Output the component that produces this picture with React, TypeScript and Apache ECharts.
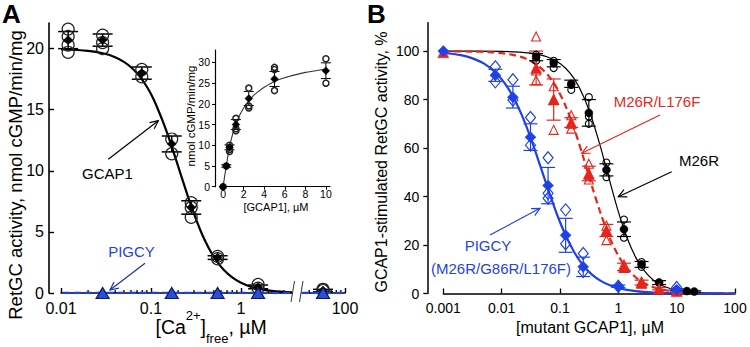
import React, { useEffect, useRef } from "react";
import * as echarts from "echarts";

// ---------------- Panel A: RetGC activity vs free Ca2+ ----------------
const axA1 = [0.01, 3.69];
const axA2 = [33.3, 100];
const caConc = [0.012, 0.029, 0.079, 0.17, 0.28, 0.55, 1.55, 57];
const gcap1Mean = [20.7, 20.7, 18.0, 12.2, 7.0, 2.9, 0.5, 0.2];
const gcap1SD = [0.7, 0.5, 0.5, 0.65, 0.55, 0.15, 0.15, 0.1];
const gcap1Reps = [
  [21.6, 21.0, 20.3, 19.7],
  [21.1, 20.5, 20.0],
  [18.3, 17.7],
  [12.6, 11.4],
  [7.4, 7.0, 6.2],
  [3.0, 2.8],
  [0.7, 0.4],
  [0.3, 0.2],
];
const gcap1FitX = [0.01, 0.02, 0.03, 0.04, 0.05, 0.06, 0.07, 0.08, 0.09, 0.1, 0.11, 0.12, 0.135, 0.15, 0.17, 0.19, 0.21, 0.24, 0.27, 0.3, 0.35, 0.4, 0.47, 0.55, 0.65, 0.8, 1, 1.3, 1.7, 2.3, 3.69];
const gcap1FitY = [19.95, 19.82, 19.6, 19.3, 18.92, 18.48, 17.98, 17.45, 16.88, 16.28, 15.65, 15.0, 14.07, 13.16, 11.99, 10.9, 9.9, 8.58, 7.45, 6.49, 5.22, 4.26, 3.28, 2.5, 1.86, 1.27, 0.83, 0.5, 0.3, 0.16, 0.06];
const pigcyConcA = [0.029, 0.17, 0.55, 1.55, 57];
const pigcyActA = [0, 0, 0, 0, 0];
const minorTicksA = [0.02, 0.03, 0.04, 0.05, 0.06, 0.07, 0.08, 0.09, 0.2, 0.3, 0.4, 0.5, 0.6, 0.7, 0.8, 0.9, 2, 3, 40, 50, 60, 70, 80, 90];
const yTicksA = [0, 5, 10, 15, 20];

// ---------------- Inset: activity vs [GCAP1] ----------------
const gcapDose = [0, 0.3125, 0.625, 1.25, 2.5, 5, 10];
const doseMean = [0, 5, 9.5, 15, 21.3, 26, 28];
const doseSD = [0, 0.3, 0.6, 1.2, 1.7, 1.8, 1.9];
const doseReps = [[0], [5], [10, 9, 8.5], [16.5, 14, 13.5], [23.8, 19.5, 19], [28.8, 28.3, 23.2], [30.9, 25]];
const doseFitX = [0, 0.3125, 0.625, 1, 1.25, 1.6, 2, 2.5, 3, 3.5, 4, 5, 6, 7, 8, 9, 10];
const doseFitY = [0, 5, 9.6, 13.3, 15.1, 17.2, 19, 20.7, 22.1, 23.1, 24, 25.4, 26.3, 27, 27.6, 28, 28.4];
const insetXTicks = [0, 2, 4, 6, 8, 10];
const insetYTicks = [0, 5, 10, 15, 20, 25, 30];

// ---------------- Panel B: % activity vs [mutant GCAP1] ----------------
const pigcyConcB = [0.001, 0.0078, 0.0156, 0.03125, 0.0625, 0.125, 0.25, 1, 10];
const pigcyMeanB = [100, 90, 81, 64.5, 44.5, 24, 11, 3, 1.5];
const pigcySDB = [0, 2.5, 4.5, 5.5, 7.5, 7, 4, 0.5, 0.5];
const pigcyRepsB = [[], [93.5, 87.3], [88.2, 79.8], [72.6, 61.2], [56, 41.3, 39.3], [34.5, 20.5], [16.5, 9], [3], [2.5]];
const pigcyFitBX = [0.001, 0.002, 0.003, 0.005, 0.0078, 0.011, 0.0156, 0.022, 0.031, 0.044, 0.0625, 0.088, 0.125, 0.177, 0.25, 0.35, 0.5, 0.7, 1, 2, 4, 10, 100];
const pigcyFitBY = [99.3, 98.3, 97.2, 94.8, 91.2, 87.1, 81.3, 73.8, 64.6, 54.0, 43.0, 32.9, 24.0, 16.9, 11.6, 7.9, 5.2, 3.5, 2.24, 0.95, 0.4, 0.13, 0];

const dblConc = [0.001, 0.039, 0.078, 0.156, 0.3125, 0.625, 1.25, 2.5, 5, 10];
const dblMean = [99.5, 93, 80, 70.5, 49.5, 26, 11, 4.5, 2, 1];
const dblSD = [0, 7, 8.5, 2, 3, 2.5, 1.5, 1, 0.5, 0.5];
const dblReps = [[], [106, 92, 88], [85.5, 80, 67.5], [73.5, 70, 68], [53.5, 49, 47], [28, 26, 22], [12, 10.5], [5, 4], [2], [1]];
const dblFitX = [0.001, 0.003, 0.006, 0.01, 0.015, 0.022, 0.031, 0.044, 0.0625, 0.088, 0.125, 0.177, 0.25, 0.35, 0.5, 0.7, 1, 1.4, 2, 2.8, 4, 6, 10, 20, 100];
const dblFitY = [99.9, 99.8, 99.6, 99.15, 98.5, 97.5, 96.0, 93.6, 90.0, 84.8, 77.3, 67.7, 56.3, 44.6, 32.9, 23.4, 15.6, 10.4, 6.6, 4.2, 2.6, 1.5, 0.73, 0.28, 0.03];

const m26rConc = [0.039, 0.078, 0.156, 0.3125, 0.625, 1.25, 2.5, 5, 10, 15, 20];
const m26rMean = [97.5, 95, 86.5, 74.5, 51, 26.5, 12, 4.5, 1.5, 1, 0.8];
const m26rSD = [1.5, 1.5, 1.5, 5.5, 2.5, 3, 1.2, 0.8, 0.3, 0.3, 0.3];
const m26rReps = [[98.5, 96], [96, 93], [86, 84], [81, 73, 70], [54, 48], [30.5, 23], [13, 11], [4.5], [], [], []];
const m26rFitX = [0.001, 0.01, 0.02, 0.031, 0.044, 0.0625, 0.088, 0.125, 0.177, 0.25, 0.35, 0.5, 0.7, 1, 1.4, 2, 2.8, 4, 6, 10, 20, 100];
const m26rFitY = [100, 99.85, 99.56, 99.14, 98.52, 97.47, 95.77, 92.9, 88.4, 81.6, 72.4, 60.1, 47.1, 33.8, 23.2, 14.8, 9.3, 5.5, 3.0, 1.4, 0.47, 0.04];
const yTicksB = [0, 20, 40, 60, 80, 100];

// ---------------- helpers ----------------
const FONT = "'Liberation Sans', Arial, Helvetica, sans-serif";
const BLUE = "#1f42e6";
const RED = "#e5261c";
const BLACK = "#000";

const fmtLog = (v: number) => (v >= 1 ? String(Math.round(v)) : String(parseFloat(v.toPrecision(1))));
const pairs = (xs: number[], ys: number[]) => xs.map((x, i) => [x, ys[i]]);
const repPairs = (xs: number[], reps: number[][]) => xs.flatMap((x, i) => reps[i].map((v) => [x, v]));

function errSeries(xs: number[], means: number[], sds: number[], xi: number, yi: number, color: string, cap: number, w: number) {
  const data = xs.map((x, i) => [x, means[i] - sds[i], means[i] + sds[i]]).filter((_, i) => sds[i] > 0);
  return {
    type: "custom",
    xAxisIndex: xi,
    yAxisIndex: yi,
    data,
    encode: { x: 0, y: [1, 2] },
    silent: true,
    z: 3,
    renderItem: (_p: any, api: any) => {
      const x = api.value(0);
      const top = api.coord([x, api.value(2)]);
      const bot = api.coord([x, api.value(1)]);
      const style = { stroke: color, lineWidth: w, fill: "none" };
      return {
        type: "group",
        children: [
          { type: "line", shape: { x1: top[0], y1: top[1], x2: bot[0], y2: bot[1] }, style },
          { type: "line", shape: { x1: top[0] - cap, y1: top[1], x2: top[0] + cap, y2: top[1] }, style },
          { type: "line", shape: { x1: bot[0] - cap, y1: bot[1], x2: bot[0] + cap, y2: bot[1] }, style },
        ],
      };
    },
  };
}

function scatter(data: number[][], xi: number, yi: number, symbol: string, size: any, fill: string, stroke: string, bw: number, z = 4) {
  return {
    type: "scatter",
    xAxisIndex: xi,
    yAxisIndex: yi,
    data,
    symbol,
    symbolSize: size,
    silent: true,
    z,
    itemStyle: { color: fill, borderColor: stroke, borderWidth: bw, opacity: 1 },
  };
}

function fitLine(data: number[][], xi: number, yi: number, color: string, width: number, type: any = "solid", z = 2) {
  return {
    type: "line",
    xAxisIndex: xi,
    yAxisIndex: yi,
    data,
    smooth: 0.3,
    symbol: "none",
    silent: true,
    z,
    lineStyle: { color, width, type },
  };
}

function minorTickSeries(vals: number[], xi: number, yi: number) {
  return {
    type: "custom",
    xAxisIndex: xi,
    yAxisIndex: yi,
    data: vals.map((v) => [v, 0]),
    silent: true,
    z: 5,
    renderItem: (_p: any, api: any) => {
      const p = api.coord([api.value(0), 0]);
      return { type: "line", shape: { x1: p[0], y1: p[1], x2: p[0], y2: p[1] - 3 }, style: { stroke: BLACK, lineWidth: 1.3 } };
    },
  };
}

function arrow(x1: number, y1: number, x2: number, y2: number, color: string, w = 1.2) {
  const ang = Math.atan2(y2 - y1, x2 - x1);
  const L = 9;
  const a = 0.45;
  const p1 = [x2 - L * Math.cos(ang - a), y2 - L * Math.sin(ang - a)];
  const p2 = [x2 - L * Math.cos(ang + a), y2 - L * Math.sin(ang + a)];
  return [
    { type: "line", z: 100, shape: { x1, y1, x2, y2 }, style: { stroke: color, lineWidth: w } },
    { type: "polyline", z: 100, shape: { points: [p1, [x2, y2], p2] }, style: { stroke: color, lineWidth: w, fill: "none" } },
  ];
}

function label(text: string, x: number, y: number, color: string, size: number, extra: any = {}, align = "center") {
  return {
    type: "text",
    x,
    y,
    z: 100,
    ...extra,
    style: { text, fill: color, fontSize: size, fontFamily: FONT, align, verticalAlign: "middle" },
  };
}

function buildOption() {
  const inA1 = (x: number) => x <= axA1[1];
  const idxA1 = caConc.map((_x, i) => i).filter((i) => inA1(caConc[i]));
  const idxA2 = caConc.map((_x, i) => i).filter((i) => !inA1(caConc[i]));
  const pick = (arr: any[], idx: number[]) => idx.map((i) => arr[i]);

  const axisLine = (w = 1.6) => ({ show: true, onZero: false, lineStyle: { color: BLACK, width: w } });
  const lab = (size: number, margin: number, extra: any = {}) => ({ color: BLACK, fontSize: size, fontFamily: FONT, margin, ...extra });

  const series: any[] = [];
  // ---- Panel A, left segment (axes 0) ----
  series.push(fitLine(pairs(gcap1FitX, gcap1FitY), 0, 0, BLACK, 2.2, "solid", 2));
  series.push(fitLine([[axA1[0] * 1.05, 0], [axA1[1], 0]], 0, 0, BLUE, 2.5, [7, 4], 6));
  series.push(minorTickSeries(minorTicksA.filter(inA1), 0, 0));
  series.push(errSeries(pick(caConc, idxA1), pick(gcap1Mean, idxA1), pick(gcap1SD, idxA1), 0, 0, BLACK, 10, 1.5));
  series.push(scatter(repPairs(pick(caConc, idxA1), pick(gcap1Reps, idxA1)), 0, 0, "circle", 12, "rgba(0,0,0,0)", "#222", 1.2));
  series.push(scatter(pairs(pick(caConc, idxA1), pick(gcap1Mean, idxA1)), 0, 0, "diamond", 9, BLACK, BLACK, 0.5));
  series.push(scatter(pairs(pigcyConcA.filter(inA1), pigcyActA), 0, 0, "triangle", [13, 11], "#2a4fd6", "#0d1a5c", 1.2, 7));
  // ---- Panel A, right segment (axes 1) ----
  series.push(fitLine([[axA2[0], 0], [axA2[1], 0]], 1, 1, BLUE, 2.5, [7, 4], 6));
  series.push(minorTickSeries(minorTicksA.filter((v) => !inA1(v)), 1, 1));
  series.push(errSeries(pick(caConc, idxA2), pick(gcap1Mean, idxA2), pick(gcap1SD, idxA2), 1, 1, BLACK, 10, 1.5));
  series.push(scatter(repPairs(pick(caConc, idxA2), pick(gcap1Reps, idxA2)), 1, 1, "circle", 12, "rgba(0,0,0,0)", "#222", 1.2));
  series.push(scatter(pairs(pick(caConc, idxA2), pick(gcap1Mean, idxA2)), 1, 1, "diamond", 9, BLACK, BLACK, 0.5));
  series.push(scatter(pairs(pigcyConcA.filter((x) => !inA1(x)), pigcyActA), 1, 1, "triangle", [13, 11], "#2a4fd6", "#0d1a5c", 1.2, 7));
  // ---- Inset (axes 2) ----
  series.push(fitLine(pairs(doseFitX, doseFitY), 2, 2, "#333", 1.1, "solid", 2));
  series.push(errSeries(gcapDose, doseMean, doseSD, 2, 2, BLACK, 5, 1));
  series.push(scatter(repPairs(gcapDose, doseReps), 2, 2, "circle", 6, "rgba(0,0,0,0)", "#222", 1.5));
  series.push(scatter(pairs(gcapDose, doseMean), 2, 2, "diamond", 8, BLACK, BLACK, 0.3));
  // ---- Panel B (axes 3) ----
  series.push(fitLine(pairs(m26rFitX, m26rFitY), 3, 3, BLACK, 1.2, "solid", 2));
  series.push(fitLine(pairs(dblFitX, dblFitY), 3, 3, RED, 2.2, [7, 4], 2));
  series.push(fitLine(pairs(pigcyFitBX, pigcyFitBY), 3, 3, BLUE, 2.2, "solid", 2));
  series.push(errSeries(m26rConc, m26rMean, m26rSD, 3, 3, BLACK, 7, 1.2));
  series.push(errSeries(dblConc, dblMean, dblSD, 3, 3, RED, 7, 1.2));
  series.push(errSeries(pigcyConcB, pigcyMeanB, pigcySDB, 3, 3, BLUE, 7, 1.2));
  series.push(scatter(repPairs(m26rConc, m26rReps), 3, 3, "circle", 7, "rgba(0,0,0,0)", BLACK, 1.1));
  series.push(scatter(repPairs(dblConc, dblReps), 3, 3, "triangle", 9, "rgba(0,0,0,0)", RED, 1.1));
  series.push(scatter(repPairs(pigcyConcB, pigcyRepsB), 3, 3, "diamond", [10, 12], "rgba(0,0,0,0)", BLUE, 1.2));
  series.push(scatter(pairs(m26rConc, m26rMean), 3, 3, "circle", 8, BLACK, BLACK, 0.5, 5));
  series.push(scatter(pairs(dblConc, dblMean), 3, 3, "triangle", 11, RED, RED, 0.5, 5));
  series.push(scatter(pairs(pigcyConcB, pigcyMeanB), 3, 3, "diamond", 11, BLUE, BLUE, 0.5, 5));

  // x-axis title of panel A: [Ca2+]free, µM  (pieces laid out left to right)
  const tx0 = 155.5;
  const ty = 327;
  const graphic: any[] = [
    { type: "text", x: 2, y: 1, z: 100, style: { text: "A", fontSize: 26, fontWeight: "bold", fontFamily: FONT, fill: BLACK } },
    { type: "text", x: 367, y: 1, z: 100, style: { text: "B", fontSize: 26, fontWeight: "bold", fontFamily: FONT, fill: BLACK } },
    label("RetGC activity, nmol cGMP/min/mg", 15, 175, BLACK, 18.5, { rotation: Math.PI / 2 }),
    label("[Ca", tx0, ty, BLACK, 19.5, {}, "left"),
    label("2+", tx0 + 30.3, ty - 12, BLACK, 13, {}, "left"),
    label("]", tx0 + 45.1, ty, BLACK, 19.5, {}, "left"),
    label("free", tx0 + 50.5, ty + 11, BLACK, 13, {}, "left"),
    label(", µM", tx0 + 72.9, ty, BLACK, 19.5, {}, "left"),
    label("nmol cGMP/min/mg", 191, 116, BLACK, 11.5, { rotation: Math.PI / 2 }),
    label("[GCAP1], µM", 276, 207, BLACK, 11),
    label("GCAP1-stimulated RetGC activity, %", 381, 162, BLACK, 16, { rotation: Math.PI / 2 }),
    label("[mutant GCAP1], µM", 590, 327, BLACK, 16),
    label("GCAP1", 107.5, 173, BLACK, 15),
    label("PIGCY", 131.5, 251.5, BLUE, 15),
    label("M26R/L176F", 657, 101.5, RED, 15),
    label("M26R", 699, 160, BLACK, 15),
    label("PIGCY", 488, 245, BLUE, 15),
    label("(M26R/G86R/L176F)", 501, 268.5, BLUE, 15),
    ...arrow(108.3, 159.3, 158.3, 120.7, BLACK),
    ...arrow(145, 263.3, 110, 290, "#1a2fb0"),
    ...arrow(660, 115, 581.7, 153.3, RED),
    ...arrow(671.7, 171.7, 618.3, 196.7, BLACK),
    ...arrow(490, 235, 540, 208.3, BLUE),
    { type: "line", z: 100, shape: { x1: 291, y1: 302, x2: 294.5, y2: 281 }, style: { stroke: "#333", lineWidth: 1 } },
    { type: "line", z: 100, shape: { x1: 299.5, y1: 302, x2: 303, y2: 281 }, style: { stroke: "#333", lineWidth: 1 } },
  ];

  return {
    animation: false,
    backgroundColor: "#fff",
    textStyle: { fontFamily: FONT },
    grid: [
      { left: 61, top: 23, width: 231, height: 270, outerBoundsMode: "none", containLabel: false },
      { left: 302, top: 23, width: 43, height: 270, outerBoundsMode: "none", containLabel: false },
      { left: 220, top: 50, width: 110, height: 136.7, outerBoundsMode: "none", containLabel: false },
      { left: 443.3, top: 22.7, width: 291.7, height: 270.8, outerBoundsMode: "none", containLabel: false },
    ],
    xAxis: [
      {
        type: "log", gridIndex: 0, logBase: 10, min: axA1[0], max: axA1[1], position: "bottom",
        axisLine: axisLine(), splitLine: { show: false },
        axisTick: { show: true, inside: true, length: 5, lineStyle: { color: BLACK, width: 1.4 } },
        axisLabel: lab(16, 7, { showMaxLabel: false, formatter: fmtLog }),
      },
      {
        type: "log", gridIndex: 1, logBase: 10, min: axA2[0], max: axA2[1], position: "bottom",
        axisLine: axisLine(), splitLine: { show: false },
        axisTick: { show: true, inside: true, length: 5, lineStyle: { color: BLACK, width: 1.4 } },
        axisLabel: lab(16, 7, { showMinLabel: false, formatter: fmtLog }),
      },
      {
        type: "value", gridIndex: 2, min: -0.3, max: 10.4, position: "bottom",
        axisLine: axisLine(1.2), splitLine: { show: false },
        axisTick: { show: true, inside: false, length: 3, customValues: insetXTicks, lineStyle: { color: BLACK, width: 1 } },
        axisLabel: lab(10.5, 2, { customValues: insetXTicks }),
      },
      {
        type: "log", gridIndex: 3, logBase: 10, min: 0.001, max: 100, position: "bottom",
        axisLine: axisLine(1.5), splitLine: { show: false },
        axisTick: { show: true, inside: true, length: 5, lineStyle: { color: BLACK, width: 1.3 } },
        axisLabel: lab(14, 7, { formatter: fmtLog }),
      },
    ],
    yAxis: [
      {
        type: "value", gridIndex: 0, min: 0, max: 22.1, offset: 12,
        axisLine: axisLine(), splitLine: { show: false },
        axisTick: { show: true, inside: true, length: 5, customValues: yTicksA, lineStyle: { color: BLACK, width: 1.4 } },
        axisLabel: lab(16, 5, { customValues: yTicksA }),
      },
      { type: "value", gridIndex: 1, min: 0, max: 22.1, show: false },
      {
        type: "value", gridIndex: 2, min: 0, max: 33, offset: 5,
        axisLine: axisLine(1.2), splitLine: { show: false },
        axisTick: { show: true, inside: false, length: 3, customValues: insetYTicks, lineStyle: { color: BLACK, width: 1 } },
        axisLabel: lab(10.5, 5, { customValues: insetYTicks }),
      },
      {
        type: "value", gridIndex: 3, min: 0, max: 111.7, offset: 16,
        axisLine: axisLine(1.5), splitLine: { show: false },
        axisTick: { show: true, inside: false, length: 4, customValues: yTicksB, lineStyle: { color: BLACK, width: 1.3 } },
        axisLabel: lab(14, 8, { customValues: yTicksB }),
      },
    ],
    series,
    graphic,
  };
}

export default function App() {
  const ref = useRef<HTMLDivElement>(null);
  useEffect(() => {
    if (!ref.current) return;
    const chart = echarts.init(ref.current, null, { renderer: "svg" });
    chart.setOption(buildOption() as any);
    return () => chart.dispose();
  }, []);
  return (
    <div
      ref={ref}
      style={{ position: "fixed", left: 0, top: 0, width: 750, height: 347, background: "#fff" }}
    />
  );
}
